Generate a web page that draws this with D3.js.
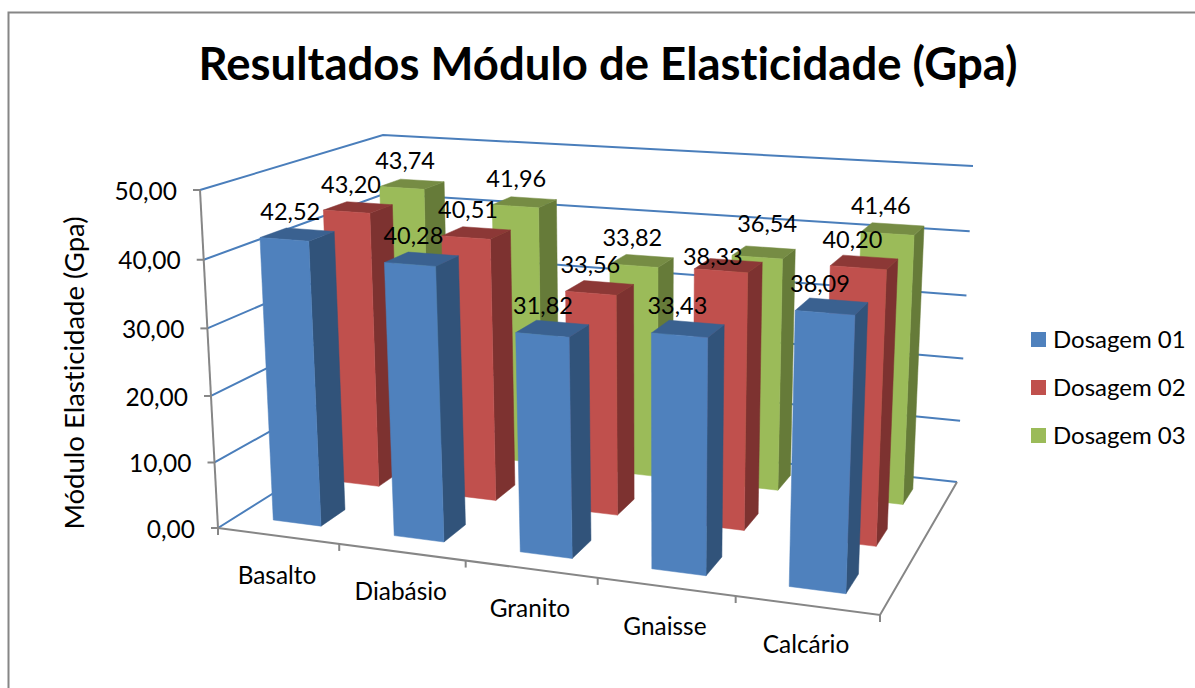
<!DOCTYPE html>
<html>
<head>
<meta charset="utf-8">
<script src="https://cdn.jsdelivr.net/npm/d3@7"></script>
<style>
    html, body { margin: 0; padding: 0; background: #fff; }
    svg { display: block; }
    text { font-family: Lato, "Open Sans", sans-serif; fill: #000; font-variant-ligatures: none; }
</style>
</head>
<body>
<div id="chart"></div>
<script>
const categories = ["Basalto", "Diabásio", "Granito", "Gnaisse", "Calcário"];
const seriesNames = ["Dosagem 01", "Dosagem 02", "Dosagem 03"];
const dosagem01 = [42.52, 40.28, 31.82, 33.43, 38.09];
const dosagem02 = [43.20, 40.51, 33.56, 38.33, 40.20];
const dosagem03 = [43.74, 41.96, 33.82, 36.54, 41.46];
const seriesValues = [dosagem01, dosagem02, dosagem03];
const yTicks = [0, 10, 20, 30, 40, 50];

const faceColors = [
    { front: "#4f81bd", side: "#31537a", top: "#3a6190" },
    { front: "#c0504d", side: "#7d3230", top: "#8c3836" },
    { front: "#9bbb59", side: "#667b39", top: "#768c44" }
];

// The two Gnaisse labels were moved by hand in the original
const labelNudges = new Map([
    ["Dosagem 02|Gnaisse", [-5, 14]],
    ["Dosagem 03|Gnaisse", [14, -6]]
]);

const width = 1195, height = 688;

const svg = d3.select("#chart").append("svg")
    .attr("width", width)
    .attr("height", height);

// Corners of the chart box as seen on screen: front-left, front-right, back-right, back-left
const floorQuad = [[218, 528], [880, 615], [957, 482], [390, 420]];
const ceilingQuad = [[200, 190], [895, 236], [973, 166], [383, 135]];

// Maps the unit square onto a quadrilateral with perspective
function quadMap(q) {
    const [[x0, y0], [x1, y1], [x2, y2], [x3, y3]] = q;
    const sx = x0 - x1 + x2 - x3, sy = y0 - y1 + y2 - y3;
    const dx1 = x1 - x2, dx2 = x3 - x2, dy1 = y1 - y2, dy2 = y3 - y2;
    const den = dx1 * dy2 - dx2 * dy1;
    const g = (sx * dy2 - dx2 * sy) / den;
    const h = (dx1 * sy - sx * dy1) / den;
    return (u, v) => {
        const w = g * u + h * v + 1;
        return [
            ((x1 - x0 + g * x1) * u + (x3 - x0 + h * x3) * v + x0) / w,
            ((y1 - y0 + g * y1) * u + (y3 - y0 + h * y3) * v + y0) / w
        ];
    };
}

const floorMap = quadMap(floorQuad);
const ceilingMap = quadMap(ceilingQuad);

// Scales: x along the categories, z into the depth, y up the value axis
const x = d3.scaleBand().domain(categories).range([0, 1]).paddingInner(0.6).paddingOuter(0.3);
const z = d3.scaleBand().domain(seriesNames).range([0, 1]).paddingInner(0.6).paddingOuter(0.3);
const y = d3.scaleLinear().domain([0, 50]).range([0, 1]);
const xEdge = d3.scaleLinear().domain([0, categories.length]).range([0, 1]);

// u across, v into depth, value up
function project(u, v, value) {
    const t = y(value);
    const k = t / (t + 1.04 * (1 - t)); // floor is a little further from the camera
    const a = floorMap(u, v), b = ceilingMap(u, v);
    return [a[0] + (b[0] - a[0]) * k, a[1] + (b[1] - a[1]) * k];
}

const line = d3.line();
const poly = pts => line(pts) + "Z";

// Gridlines on the left wall and back wall
svg.append("g").selectAll("path")
    .data(yTicks)
    .join("path")
    .attr("d", d => line([project(0, 0, d), project(0, 1, d), project(1, 1, d)]))
    .attr("fill", "none")
    .attr("stroke", "#4a7ebb")
    .attr("stroke-width", 2);

// Axis lines
const axisG = svg.append("g").attr("fill", "none").attr("stroke", "#868686").attr("stroke-width", 2);
axisG.append("path").attr("d", line([project(0, 0, 50), project(0, 0, 0)]));
axisG.append("path").attr("d", line([project(0, 0, 0), project(1, 0, 0), project(1, 1, 0)]));

axisG.selectAll(".tick-y")
    .data(yTicks)
    .join("path")
    .attr("class", "tick-y")
    .attr("d", d => {
        const p = project(0, 0, d);
        return line([[p[0] - 7, p[1]], p]);
    });

axisG.selectAll(".tick-x")
    .data(d3.range(categories.length + 1))
    .join("path")
    .attr("class", "tick-x")
    .attr("d", i => {
        const p = project(xEdge(i), 0, 0);
        return line([p, [p[0], p[1] + 7]]);
    });

// Bars, back row first so the front rows paint over them
const bars = [];
seriesNames.forEach((s, si) => {
    categories.forEach((c, ci) => {
        bars.push({ series: s, si, category: c, value: seriesValues[si][ci] });
    });
});
bars.sort((a, b) => d3.descending(a.si, b.si));

const barG = svg.append("g").selectAll("g")
    .data(bars)
    .join("g");

const u0 = d => x(d.category), u1 = d => x(d.category) + x.bandwidth();
const v0 = d => z(d.series), v1 = d => z(d.series) + z.bandwidth();

// thin stroke in the face colour closes the seams between faces
function addFace(corners, colorKey) {
    barG.append("path")
        .attr("d", d => poly(corners(d)))
        .attr("fill", d => faceColors[d.si][colorKey])
        .attr("stroke", d => faceColors[d.si][colorKey])
        .attr("stroke-width", 0.5);
}

addFace(d => [project(u1(d), v0(d), 0), project(u1(d), v1(d), 0), project(u1(d), v1(d), d.value), project(u1(d), v0(d), d.value)], "side");
addFace(d => [project(u0(d), v0(d), d.value), project(u1(d), v0(d), d.value), project(u1(d), v1(d), d.value), project(u0(d), v1(d), d.value)], "top");
addFace(d => [project(u0(d), v0(d), 0), project(u1(d), v0(d), 0), project(u1(d), v0(d), d.value), project(u0(d), v0(d), d.value)], "front");

// Data labels sit above the middle of each bar's top
const decimalComma = v => v.toFixed(2).replace(".", ",");

function labelPos(d) {
    const u = (u0(d) + u1(d)) / 2;
    const p = project(u, (v0(d) + v1(d)) / 2, d.value);
    const nudge = labelNudges.get(`${d.series}|${d.category}`) || [0, 0];
    return [p[0] - 6.5 - 6 * u + nudge[0], p[1] - 23 + nudge[1]];
}

svg.append("g").selectAll("text")
    .data(bars)
    .join("text")
    .attr("x", d => labelPos(d)[0])
    .attr("y", d => labelPos(d)[1])
    .attr("dy", "0.35em")
    .attr("text-anchor", "middle")
    .style("font-size", "23.5px")
    .text(d => decimalComma(d.value));

// Y tick labels
svg.append("g").selectAll("text")
    .data(yTicks)
    .join("text")
    .attr("x", d => project(0, 0, d)[0] - 23)
    .attr("y", d => project(0, 0, d)[1] + 1)
    .attr("dy", "0.35em")
    .attr("text-anchor", "end")
    .style("font-size", "24.5px")
    .text(decimalComma);

// Category labels
svg.append("g").selectAll("text")
    .data(categories)
    .join("text")
    .attr("x", (d, i) => project(xEdge(i + 0.5), 0, 0)[0] - 1)
    .attr("y", (d, i) => project(xEdge(i + 0.5), 0, 0)[1] + 39.5)
    .attr("dy", "0.35em")
    .attr("text-anchor", "middle")
    .style("font-size", "24.4px")
    .text(d => d);

// Y axis title
svg.append("text")
    .attr("transform", "translate(74,373) rotate(-90)")
    .attr("dy", "0.35em")
    .attr("text-anchor", "middle")
    .style("font-size", "27.5px")
    .text("Módulo Elasticidade (Gpa)");

// Chart title
svg.append("text")
    .attr("x", 608)
    .attr("y", 80)
    .attr("text-anchor", "middle")
    .style("font-size", "45.5px")
    .style("font-weight", "bold")
    .text("Resultados Módulo de Elasticidade (Gpa)");

// Legend
const legend = svg.append("g").selectAll("g")
    .data(seriesNames)
    .join("g")
    .attr("transform", (d, i) => `translate(1031,${332 + i * 48})`);

legend.append("rect")
    .attr("width", 15)
    .attr("height", 15)
    .attr("fill", (d, i) => faceColors[i].front);

legend.append("text")
    .attr("x", 22)
    .attr("y", 7.5)
    .attr("dy", "0.35em")
    .style("font-size", "24px")
    .text(d => d);

// Chart frame, cropped by the screenshot on the right and bottom
svg.append("path")
    .attr("d", line([[8.5, height], [8.5, 12.5], [width, 12.5]]))
    .attr("fill", "none")
    .attr("stroke", "#868686")
    .attr("stroke-width", 2);
</script>
</body>
</html>
